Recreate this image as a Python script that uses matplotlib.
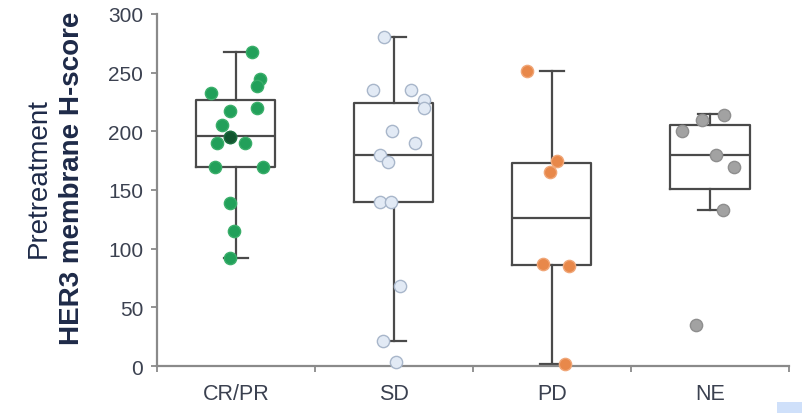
import matplotlib
matplotlib.use("Agg")
import matplotlib.pyplot as plt
from matplotlib.patches import Rectangle

plt.rcParams['font.family'] = ['Liberation Sans', 'DejaVu Sans']

# Response groups
categories = ["CR/PR", "SD", "PD", "NE"]

# Individual H-scores per group
crpr_scores = [268, 245, 239, 233, 220, 217, 205, 195, 190, 190, 170, 170, 139, 115, 92]
sd_scores = [280, 235, 235, 227, 220, 200, 190, 180, 174, 140, 140, 68, 21, 3]
pd_scores = [251, 175, 165, 87, 85, 2]
ne_scores = [214, 210, 200, 180, 170, 133, 35]

# Horizontal jitter of the dots within each group
crpr_jitter = [0.10, 0.15, 0.13, -0.16, 0.13, -0.04, -0.09, -0.04, -0.12, 0.06, -0.13, 0.17, -0.04, -0.01, -0.04]
sd_jitter = [-0.06, -0.13, 0.11, 0.19, 0.19, -0.01, 0.13, -0.09, -0.04, -0.09, -0.02, 0.04, -0.07, 0.01]
pd_jitter = [-0.16, 0.03, -0.01, -0.06, 0.11, 0.08]
ne_jitter = [0.09, -0.05, -0.18, 0.04, 0.15, 0.08, -0.09]

# Box summary per group: lower whisker, Q1, median, Q3, upper whisker
whisker_low = [92, 21, 2, 133]
q1 = [170, 140, 86, 151]
median = [196, 180, 126, 180]
q3 = [227, 224, 173, 205]
whisker_high = [268, 280, 251, 215]

yticks = [0, 50, 100, 150, 200, 250, 300]

face_colors = ['#22a05a', '#e2eaf5', '#e8884a', '#a2a2a2']
edge_colors = ['#3aae6a', '#a8b6ca', '#f0a677', '#8e8e8e']

fig = plt.figure(figsize=(8.07, 4.14), dpi=100)
ax = fig.add_axes([0.1945, 0.1135, 0.7832, 0.8503])

positions = [1, 2, 3, 4]
stats = []
for i, name in enumerate(categories):
    stats.append(dict(label=name, whislo=whisker_low[i], q1=q1[i], med=median[i],
                      q3=q3[i], whishi=whisker_high[i], fliers=[]))

box_color = '#4a4a4a'
ax.bxp(stats, positions=positions, widths=0.5, capwidths=0.15, showfliers=False,
       boxprops=dict(color=box_color, linewidth=1.6),
       medianprops=dict(color=box_color, linewidth=1.6),
       whiskerprops=dict(color=box_color, linewidth=1.6),
       capprops=dict(color=box_color, linewidth=1.6),
       zorder=2)

groups = [crpr_scores, sd_scores, pd_scores, ne_scores]
jitters = [crpr_jitter, sd_jitter, pd_jitter, ne_jitter]
for i, (vals, jit) in enumerate(zip(groups, jitters)):
    xs = [positions[i] + j for j in jit]
    ax.scatter(xs, vals, s=78, color=face_colors[i], edgecolors=edge_colors[i],
               linewidths=1.0, zorder=3, clip_on=False)

# darker overlapping dot near the CR/PR median
ax.scatter([positions[0] + crpr_jitter[7]], [crpr_scores[7]], s=78, color='#12552f',
           edgecolors='#1d6b3e', linewidths=1.0, zorder=4)

ax.set_xlim(0.5, 4.5)
ax.set_ylim(0, 300)
ax.set_yticks(yticks)
ax.set_xticks(positions)
ax.set_xticklabels(categories)
ax.set_xticks([0.5, 1.5, 2.5, 3.5, 4.5], minor=True)
ax.tick_params(axis='x', which='major', length=0, pad=12, labelsize=15.5, labelcolor='#3b4150')
ax.tick_params(axis='x', which='minor', length=4, width=1.2, color='#808080', direction='out')
ax.tick_params(axis='y', length=4, width=1.2, color='#808080', direction='out',
               labelsize=15, labelcolor='#3b4150', pad=6)

for side in ['top', 'right']:
    ax.spines[side].set_visible(False)
for side in ['left', 'bottom']:
    ax.spines[side].set_color('#8a8a8a')
    ax.spines[side].set_linewidth(1.6)

# two-line y axis title
fig.text(39 / 807, 1 - 178 / 414, "Pretreatment", rotation=90, ha='center', va='center',
         fontsize=20, color='#1e2a48')
fig.text(72 / 807, 1 - 178 / 414, "HER3 membrane H-score", rotation=90, ha='center', va='center',
         fontsize=20, fontweight='bold', color='#1e2a48')

fig.patches.append(Rectangle((777 / 807, 0), 25 / 807, 11 / 414, transform=fig.transFigure,
                             facecolor='#cfe0fa', edgecolor='none'))

fig.savefig("out.png", dpi=100)
